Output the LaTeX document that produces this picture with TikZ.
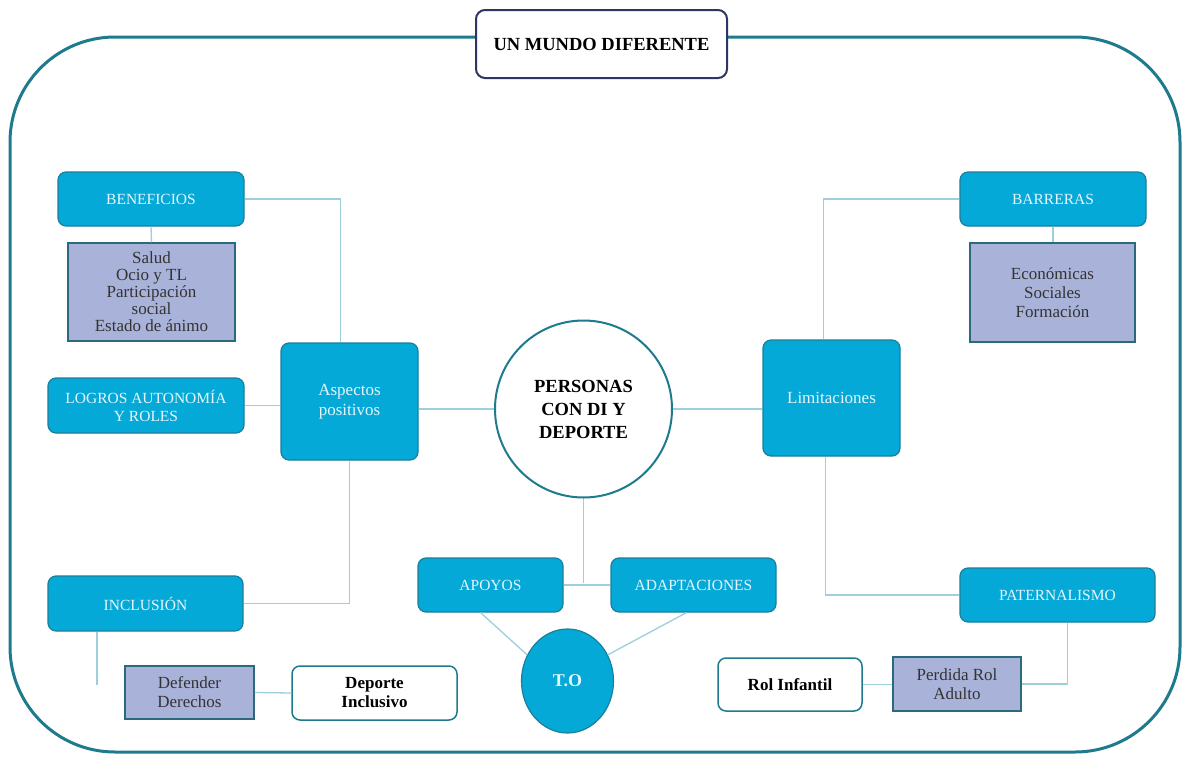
\documentclass[tikz,border=0pt]{standalone}
\usepackage{fontspec}
\setmainfont{Liberation Serif}
\usetikzlibrary{shapes.geometric}
\definecolor{framec}{HTML}{1E7B8E}
\definecolor{cyanf}{HTML}{05A9D8}
\definecolor{cyand}{HTML}{1A7F9C}
\definecolor{lav}{HTML}{A9B3DA}
\definecolor{lavd}{HTML}{2A6A7C}
\definecolor{connc}{HTML}{9DCFDD}
\definecolor{navy}{HTML}{2E3561}
\definecolor{lightt}{HTML}{E4F6FC}
\tikzset{
  cbox/.style={rectangle, rounded corners=8pt, fill=cyanf, draw=cyand, line width=1.2pt,
    text=lightt, font=\fontsize{15.5}{18}\selectfont, align=center, inner sep=0pt},
  lbox/.style={rectangle, fill=lav, draw=lavd, line width=1.5pt, text=black!80,
    font=\fontsize{17}{17}\selectfont, align=center, inner sep=0pt},
  wbox/.style={rectangle, rounded corners=8pt, fill=white, draw=framec, line width=1.5pt,
    text=black, font=\bfseries\fontsize{17}{19}\selectfont, align=center, inner sep=0pt},
  connl/.style={draw=connc, line width=1.3pt},
}
\begin{document}
\begin{tikzpicture}[x=1pt,y=-1pt]
\useasboundingbox (0,0) rectangle (1187,758);
\fill[white] (0,0) rectangle (1187,758);
% outer frame
\draw[framec, line width=3pt, rounded corners=105pt] (10,37) rectangle (1180,752);
% title
\node[rectangle, rounded corners=9pt, fill=white, draw=navy, line width=2pt, minimum width=251pt, minimum height=68pt,
  font=\bfseries\fontsize{18.5}{20}\selectfont, inner sep=0pt] (title) at (601.5,44) {UN MUNDO DIFERENTE};

% left side
\node[cbox, minimum width=186pt, minimum height=54pt] (ben) at (151,199) {BENEFICIOS};
\node[lbox, minimum width=167pt, minimum height=98pt] (salud) at (151.5,292) {Salud\\Ocio y TL\\Participación\\social\\Estado de ánimo};
\node[cbox, minimum width=137pt, minimum height=117pt, font=\fontsize{17}{20}\selectfont] (asp) at (349.5,401.5) {Aspectos\\positivos};
\node[cbox, minimum width=196pt, minimum height=55pt] (log) at (146,405.5) {LOGROS AUTONOMÍA\\Y ROLES};
\node[cbox, minimum width=195pt, minimum height=55pt] (inc) at (145.5,603.5) {INCLUSIÓN};
\node[lbox, minimum width=129pt, minimum height=53pt, font=\fontsize{17}{19}\selectfont] (def) at (189.5,692.5) {Defender\\Derechos};
\node[wbox, minimum width=165pt, minimum height=54pt] (dep) at (374.5,693) {Deporte\\Inclusivo};

% center
\node[circle, fill=white, draw=framec, line width=2pt, minimum size=177pt, align=center,
  font=\bfseries\fontsize{18.5}{23}\selectfont, inner sep=0pt] (per) at (583.5,409) {PERSONAS\\CON DI Y\\DEPORTE};
\node[cbox, minimum width=145pt, minimum height=54pt] (apo) at (490.5,585) {APOYOS};
\node[cbox, minimum width=165pt, minimum height=54pt] (ada) at (693.5,585) {ADAPTACIONES};
\node[ellipse, fill=cyanf, draw=cyand, line width=1.2pt, minimum width=92pt, minimum height=104pt,
  text=lightt, font=\bfseries\fontsize{18}{20}\selectfont, inner sep=0pt] (to) at (567.5,681) {T.O};

% right side
\node[cbox, minimum width=137pt, minimum height=116pt, font=\fontsize{17}{20}\selectfont] (lim) at (831.5,398) {Limitaciones};
\node[cbox, minimum width=186pt, minimum height=54pt] (bar) at (1053,199) {BARRERAS};
\node[lbox, minimum width=165pt, minimum height=99pt, font=\fontsize{17}{19}\selectfont] (eco) at (1052.5,292.5) {Económicas\\Sociales\\Formación};
\node[cbox, minimum width=195pt, minimum height=54pt] (pat) at (1057.5,595) {PATERNALISMO};
\node[lbox, minimum width=128pt, minimum height=54pt, font=\fontsize{17}{19}\selectfont] (prd) at (957,684) {Perdida Rol\\Adulto};
\node[wbox, minimum width=144pt, minimum height=53pt] (rol) at (790,684.5) {Rol Infantil};

% connectors
\draw[connl] (ben.south) -- (salud.north);
\draw[connl] (ben.east) -| ([xshift=-9pt]asp.north);
\draw[connl] (log.east) -- (log.east -| asp.west);
\draw[connl] (asp.east |- per.west) -- (per.west);
\draw[connl] (asp.south) |- (inc.east);
\coordinate (incend) at (97,685);
\draw[connl] ([xshift=-48.5pt]inc.south) -- (incend);
\draw[connl] (def.east) -- (dep.west);

\draw[connl] (per.east) -- (per.east -| lim.west);
\draw[connl] ([xshift=-8pt]lim.north) |- (bar.west);
\draw[connl] (bar.south) -- (bar.south |- eco.north);
\draw[connl] ([xshift=-6pt]lim.south) |- (pat.west);
\draw[connl] ([xshift=10pt]pat.south) |- (prd.east);
\draw[connl] (rol.east) -- (rol.east -| prd.west);

\coordinate (junc) at (583.5,583);
\draw[connl] (per.south) -- (junc);
\draw[connl] (apo.east) -- (ada.west);
\draw[connl] ([xshift=-10pt]apo.south) -- (to.147);
\draw[connl] ([xshift=-7pt]ada.south) -- (to.33);
\end{tikzpicture}
\end{document}
